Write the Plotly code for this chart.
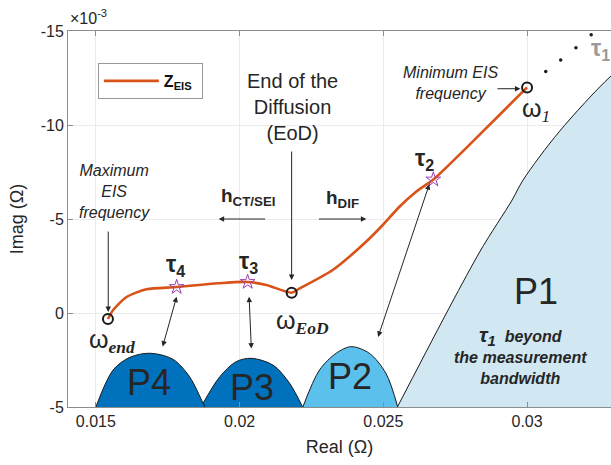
import plotly.graph_objects as go

S = 1e-3  # y values below are in units of 1e-3 Ohm

# Z_EIS curve (Real in Ohm, Imag in 1e-3 Ohm)
z_real = [0.01542, 0.01560, 0.01607, 0.01676, 0.01781, 0.01924, 0.02028, 0.02093,
          0.02181, 0.02209, 0.02324, 0.02440, 0.02498, 0.02556, 0.02614, 0.02674,
          0.02787, 0.02903, 0.03000]
z_imag = [0.32, -0.16, -0.85, -1.26, -1.38, -1.58, -1.65, -1.49,
          -1.08, -1.31, -2.29, -3.79, -4.68, -5.65, -6.45, -7.10,
          -8.76, -10.52, -12.00]

# dotted extrapolation towards tau1
ext_real = [0.03065, 0.03117, 0.03170, 0.03223]
ext_imag = [-12.84, -13.46, -14.11, -14.80]

# characteristic points
tau_real = [0.01781, 0.02028, 0.02674]
tau_imag = [-1.38, -1.65, -7.10]
omega_real = [0.01542, 0.02181, 0.03000]
omega_imag = [0.32, -1.08, -12.00]

# peak shapes (upper boundary), base at +5e-3
base_imag = 5.0
p4_real = [0.01500, 0.01560, 0.01618, 0.01688, 0.01768, 0.01826, 0.01873, 0.01880]
p4_imag = [5.00, 3.03, 2.36, 2.14, 2.46, 3.39, 4.80, 5.00]
p3_real = [0.01866, 0.01873, 0.01931, 0.01988, 0.02041, 0.02116, 0.02174, 0.02219]
p3_imag = [5.00, 4.80, 3.39, 2.59, 2.41, 2.77, 3.74, 5.00]
p2_real = [0.02220, 0.02278, 0.02336, 0.02388, 0.02451, 0.02509, 0.02550]
p2_imag = [5.00, 3.03, 2.14, 1.79, 2.14, 3.21, 5.00]
p1_real = [0.02549, 0.02833, 0.02948, 0.02986, 0.03111, 0.03288, 0.03360]
p1_imag = [5.00, -3.19, -6.01, -7.07, -9.63, -12.55, -13.40]

x_ticks = [0.015, 0.02, 0.025, 0.03]
x_ticklabels = ["0.015", "0.02", "0.025", "0.03"]
y_ticks = [-15, -10, -5, 0, 5]
y_ticklabels = ["-15", "-10", "-5", "0", "-5"]

FONT = "Liberation Sans, Arial, sans-serif"
TXT = "#262626"
BLUE = "#0072BD"
LBLUE = "#5BC0EB"
PBLUE = "#D1E8F2"

fig = go.Figure()

def add_peak(xr, yi, color):
    fig.add_trace(go.Scatter(x=[xr[0], xr[-1]], y=[base_imag * S, base_imag * S],
                             mode="lines", line=dict(width=0), showlegend=False,
                             hoverinfo="skip"))
    fig.add_trace(go.Scatter(x=xr, y=[v * S for v in yi], mode="lines",
                             line=dict(color="#1a1a1a", width=1, shape="spline", smoothing=0.9),
                             fill="tonexty", fillcolor=color, showlegend=False,
                             hoverinfo="skip"))

add_peak(p1_real, p1_imag, PBLUE)
add_peak(p2_real, p2_imag, LBLUE)
add_peak(p3_real, p3_imag, BLUE)
add_peak(p4_real, p4_imag, BLUE)

fig.add_trace(go.Scatter(x=ext_real, y=[v * S for v in ext_imag], mode="markers",
                         marker=dict(color="#1a1a1a", size=3.5), showlegend=False))
fig.add_trace(go.Scatter(x=z_real, y=[v * S for v in z_imag], mode="lines",
                         name="<b>Z<sub>EIS</sub></b>&nbsp;",
                         line=dict(color="#D95319", width=2.6, shape="spline", smoothing=0.7)))
fig.add_trace(go.Scatter(x=tau_real, y=[v * S for v in tau_imag], mode="markers",
                         marker=dict(symbol="star-open", size=11, color="#9B3FB0",
                                     line=dict(width=1)), showlegend=False))
fig.add_trace(go.Scatter(x=omega_real, y=[v * S for v in omega_imag], mode="markers",
                         marker=dict(symbol="circle-open", size=10, color="#1a1a1a",
                                     line=dict(width=2)), showlegend=False))

ann = []

def text(x, y, t, size, **kw):
    d = dict(x=x, y=y, xref="x", yref="y", text=t, showarrow=False,
             font=dict(family=FONT, size=size, color=kw.pop("color", TXT)))
    d.update(kw)
    ann.append(d)

def arrow(x0, y0, x1, y1, both=False):
    d = dict(x=x1, y=y1 * S, ax=x0, ay=y0 * S, xref="x", yref="y", axref="x", ayref="y",
             text="", showarrow=True, arrowhead=2, arrowsize=1.1, arrowwidth=1,
             arrowcolor=TXT)
    if both:
        d.update(arrowside="end+start", startarrowhead=2, startarrowsize=1.1)
    ann.append(d)

text(0.02184, -10.96 * S, "End of the<br>Diffusion<br>(EoD)", 20)
arrow(0.02181, -8.67, 0.02181, -1.75)
text(0.01566, -6.44 * S, "<i>Maximum<br>EIS<br>frequency</i>", 16)
arrow(0.01543, -4.41, 0.01543, -0.05)
text(0.02733, -12.26 * S, "<i>Minimum EIS<br>frequency</i>", 16)
arrow(0.02892, -11.93, 0.02977, -11.93)
text(0.02028, -6.17 * S, "<b>h<sub>CT/SEI</sub></b>", 19)
arrow(0.02094, -5.0, 0.01927, -5.0)
text(0.02358, -6.06 * S, "<b>h<sub>DIF</sub></b>", 19)
arrow(0.02271, -5.0, 0.02441, -5.0)

text(0.01778, -2.55 * S, "<b>τ<sub>4</sub></b>", 23)
text(0.02031, -2.66 * S, "<b>τ<sub>3</sub></b>", 23)
text(0.02642, -8.14 * S, "<b>τ<sub>2</sub></b>", 23)
text(0.03215, -13.99 * S, "<b>τ<sub>1</sub></b>", 23, color="#9a9a9a", xanchor="left")

arrow(0.01731, 1.86, 0.01781, -0.87, both=True)
arrow(0.02041, 1.97, 0.02033, -0.87, both=True)
arrow(0.02480, 1.35, 0.02660, -6.85, both=True)

text(0.01469, 1.49 * S, "ω<sub><span style='font-family:Liberation Serif'><b><i>end</i></b></span></sub>", 25, xanchor="left")
text(0.02118, 0.48 * S, "ω<sub><span style='font-family:Liberation Serif'><b><i>EoD</i></b></span></sub>", 25, xanchor="left")
text(0.02976, -10.80 * S, "ω<sub><span style='font-family:Liberation Serif'><i>1</i></span></sub>", 25, xanchor="left")

text(0.01684, 3.67 * S, "P4", 36)
text(0.02042, 3.94 * S, "P3", 36)
text(0.02385, 3.40 * S, "P2", 36)
text(0.03031, -1.12 * S, "P1", 36)
text(0.02976, 2.25 * S,
     "<b><i><span style='font-size:21px'>τ<sub>1</sub></span>  beyond<br>the measurement<br>bandwidth</i></b>", 16)

ann.append(dict(x=0.0, y=1.0, xref="paper", yref="paper", xanchor="left", yanchor="bottom",
                text="×10<sup>-3</sup>", showarrow=False, yshift=2,
                font=dict(family=FONT, size=16, color=TXT)))

axis_common = dict(showline=True, linecolor="#8c8c8c", linewidth=1, showgrid=True,
                   gridcolor="#ebebeb", gridwidth=1, zeroline=False, ticks="inside",
                   ticklen=5, tickcolor="#8c8c8c",
                   tickfont=dict(family=FONT, size=16, color=TXT))

fig.update_layout(
    width=611, height=465,
    margin=dict(l=68, r=0, t=31, b=58),
    paper_bgcolor="white", plot_bgcolor="white",
    font=dict(family=FONT, color=TXT),
    annotations=ann,
    legend=dict(x=0.055, y=0.915, xanchor="left", yanchor="top",
                bordercolor="#999999", borderwidth=1, bgcolor="white",
                font=dict(family=FONT, size=16, color="#111111"), itemwidth=55),
    xaxis=dict(range=[0.01403, 0.03292], tickvals=x_ticks, ticktext=x_ticklabels,
               mirror="ticks",
               title=dict(text="Real (Ω)", font=dict(family=FONT, size=18, color=TXT), standoff=11),
               **axis_common),
    yaxis=dict(range=[5 * S, -15 * S], tickvals=[v * S for v in y_ticks],
               ticktext=y_ticklabels,
               title=dict(text="Imag (Ω)", font=dict(family=FONT, size=18, color=TXT), standoff=12),
               **axis_common),
)

fig.write_html("out.html")
